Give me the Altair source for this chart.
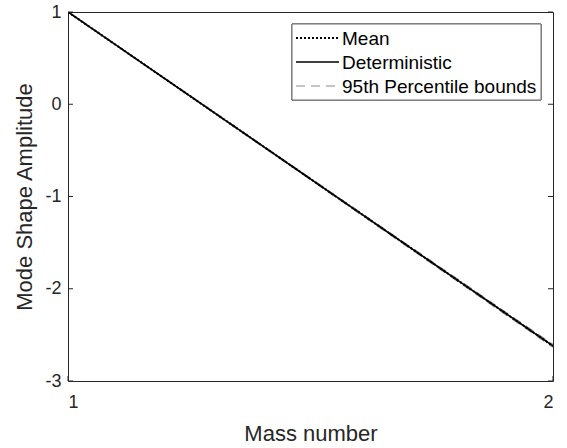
import altair as alt
import pandas as pd

# ---- data ----
mass = [1, 2]
mean_vals = [1.0, -2.62]
det_vals = [1.0, -2.62]
lower_vals = [1.0, -2.635]
upper_vals = [1.0, -2.605]

series_names = ["Mean", "Deterministic", "95th Percentile bounds"]
x_ticks = [1, 2]
y_ticks = [1, 0, -1, -2, -3]

rows = []
for x, v in zip(mass, mean_vals):
    rows.append({"x": x, "y": v, "series": "Mean", "line": "mean"})
for x, v in zip(mass, det_vals):
    rows.append({"x": x, "y": v, "series": "Deterministic", "line": "det"})
for x, v in zip(mass, lower_vals):
    rows.append({"x": x, "y": v, "series": "95th Percentile bounds", "line": "lower"})
for x, v in zip(mass, upper_vals):
    rows.append({"x": x, "y": v, "series": "95th Percentile bounds", "line": "upper"})
df = pd.DataFrame(rows)
leg_df = pd.DataFrame({"series": series_names})

W, H = 485, 369
AX = "#262626"
FONT = "Liberation Sans"

xscale = alt.Scale(domain=[1, 2], nice=False, zero=False)
yscale = alt.Scale(domain=[-3, 1], nice=False, zero=False)

xaxis = alt.Axis(values=x_ticks, title="Mass number", domain=False, ticks=False, grid=False,
                 labelFontSize=18, labelPadding=12, labelColor=AX, labelFont=FONT,
                 titleFontSize=22, titleFontWeight="normal", titleColor=AX, titleFont=FONT,
                 titleBaseline="alphabetic", titleY=59, titleX=W / 2, titleAlign="center",
                 labelExpr="'' + datum.value")
yaxis = alt.Axis(values=y_ticks, title="Mode Shape Amplitude", domain=False, ticks=False, grid=False,
                 labelFontSize=18, labelPadding=7, labelColor=AX, labelFont=FONT,
                 titleFontSize=22, titleFontWeight="normal", titleColor=AX, titleFont=FONT,
                 titleBaseline="alphabetic", titleX=-37, titleY=H / 2, titleAlign="center",
                 titleAngle=-90, labelExpr="'' + datum.value")

color = alt.Color("series:N", scale=alt.Scale(domain=series_names,
                                              range=["#000000", "#000000", "#8a8a8a"]),
                  legend=None)
dash = alt.StrokeDash("series:N", scale=alt.Scale(domain=series_names,
                                                   range=[[2, 2], [1, 0], [9, 6]]),
                      legend=None)
sw = alt.StrokeWidth("series:N", scale=alt.Scale(domain=series_names, range=[2, 1.2, 1.2]),
                     legend=None)


def line_layer(name):
    return alt.Chart(df).transform_filter(alt.datum.series == name).mark_line(clip=True).encode(
        x=alt.X("x:Q", scale=xscale, axis=xaxis),
        y=alt.Y("y:Q", scale=yscale, axis=yaxis),
        color=color, strokeDash=dash, strokeWidth=sw, detail="line:N")


tick_y = pd.DataFrame({"v": y_ticks})
tick_x = pd.DataFrame({"v": x_ticks})

left_ticks = alt.Chart(tick_y).mark_rule(color=AX, strokeWidth=1).encode(
    y=alt.Y("v:Q", scale=yscale, axis=yaxis), x=alt.value(0), x2=alt.value(5))
right_ticks = alt.Chart(tick_y).mark_rule(color=AX, strokeWidth=1).encode(
    y=alt.Y("v:Q", scale=yscale, axis=yaxis), x=alt.value(W - 5), x2=alt.value(W))
bottom_ticks = alt.Chart(tick_x).mark_rule(color=AX, strokeWidth=1).encode(
    x=alt.X("v:Q", scale=xscale, axis=xaxis), y=alt.value(H), y2=alt.value(H - 5))

main = alt.layer(
    line_layer("95th Percentile bounds"),
    line_layer("Deterministic"),
    line_layer("Mean"),
    left_ticks, right_ticks, bottom_ticks,
)

# ---- legend (drawn as marks, top-right of the plot) ----
leg_y = alt.Y("series:N", axis=None,
              scale=alt.Scale(type="point", domain=series_names, range=[26, 74], padding=0))
leg_box = alt.Chart(leg_df).mark_rect(fill="white", stroke="#6e6e6e", strokeWidth=1).encode(
    x=alt.value(224), x2=alt.value(473), y=alt.value(12), y2=alt.value(88))
leg_sym = alt.Chart(leg_df).mark_rule().encode(
    y=leg_y, x=alt.value(228), x2=alt.value(271),
    color=color, strokeDash=dash, strokeWidth=sw)
leg_txt = alt.Chart(leg_df).mark_text(align="left", baseline="middle", font=FONT,
                                      fontSize=19, color="#000000", dy=1).encode(
    y=leg_y, x=alt.value(274), text="series:N")
legend = alt.layer(leg_box, leg_sym, leg_txt)

chart = alt.layer(main, legend).resolve_scale(y="independent").properties(
    width=W, height=H, autosize="none",
    padding={"left": 68, "top": 12, "right": 14, "bottom": 67},
    background="white",
).configure_view(stroke=AX, strokeWidth=1)

chart.save("out.html", embed_options={"renderer": "svg", "actions": False})
